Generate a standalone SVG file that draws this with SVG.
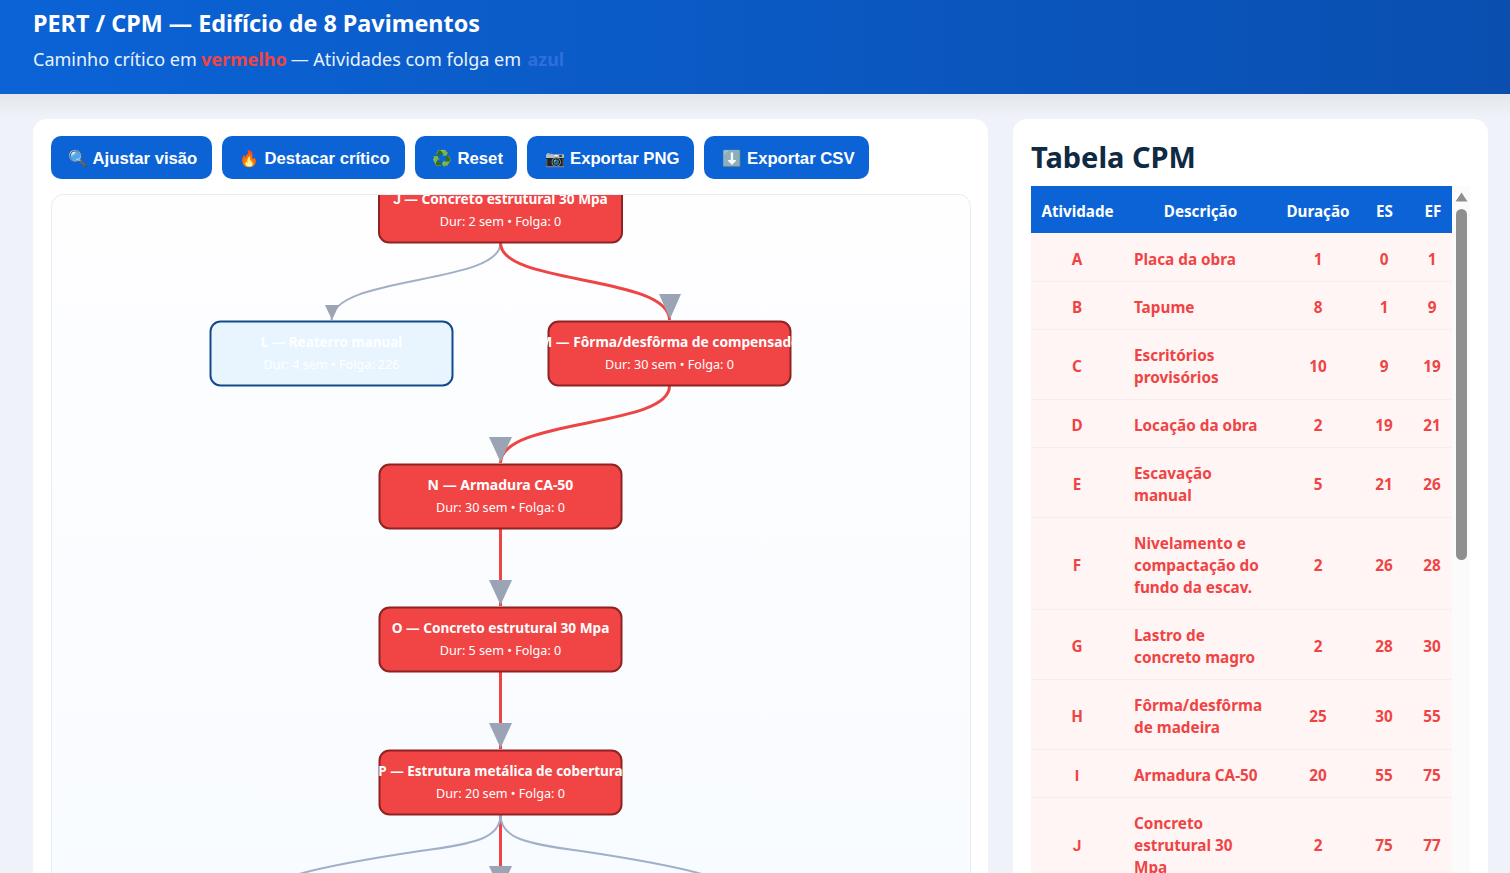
<svg xmlns="http://www.w3.org/2000/svg" width="1510" height="873" viewBox="0 0 1510 873">
<style>
text{font-family:"Noto Sans","Open Sans",sans-serif}
.rb{font-family:Roboto,"Noto Sans",sans-serif}
.btn{fill:#0b63d6}
.bt{font-family:"Liberation Sans",Arial,sans-serif;font-weight:700;font-size:16.700px;fill:#fff}
.em{font-size:16px;font-family:"Noto Color Emoji","Noto Sans",sans-serif}
.nt{font-size:13.650px;font-weight:700;fill:#fff;text-anchor:middle}
.ns{font-size:12.600px;fill:#fff;text-anchor:middle}
.crit{fill:#f14545;stroke:#8f2222;stroke-width:2}
.slack{fill:#e8f5ff;stroke:#134a8e;stroke-width:2}
.ec{fill:none;stroke:#ef4444;stroke-width:3}
.eg{fill:none;stroke:#9fb0c8;stroke-width:2}
.ah{fill:#9aa4b4}
.th{font-size:15.200px;font-weight:700;fill:#fff;text-anchor:middle}
.c{font-size:15.300px;font-weight:700;fill:#ef4444;text-anchor:middle}
.d{font-size:15.300px;font-weight:700;fill:#ef4444}
.sep{stroke:#f3eef2;stroke-width:1}
</style>
<defs>
<linearGradient id="hd" x1="0" y1="0" x2="1" y2="0"><stop offset="0" stop-color="#0b63d6"/><stop offset="1" stop-color="#0a4fb0"/></linearGradient>
<linearGradient id="sh" x1="0" y1="0" x2="0" y2="1"><stop offset="0" stop-color="#e4e6ec"/><stop offset="1" stop-color="#eff2f8"/></linearGradient>
<linearGradient id="gb" x1="0" y1="0" x2="0" y2="1"><stop offset="0" stop-color="#fefeff"/><stop offset="1" stop-color="#f8fbff"/></linearGradient>
<clipPath id="gc"><rect x="52" y="195" width="918" height="678" rx="12"/></clipPath>
</defs>
<rect width="1510" height="873" fill="#eff2f8"/>
<rect y="94" width="1510" height="24" fill="url(#sh)"/>
<rect width="1510" height="94" fill="url(#hd)"/>
<text x="33" y="32" font-size="24" font-weight="700" fill="#fff" textLength="447" lengthAdjust="spacingAndGlyphs">PERT / CPM — Edifício de 8 Pavimentos</text>
<text y="66" font-size="18" fill="#eaf2ff"><tspan x="33">Caminho crítico em </tspan><tspan x="201" font-weight="700" fill="#ef4444">vermelho</tspan><tspan x="286"> — Atividades com folga em </tspan><tspan x="527.500" font-weight="700" fill="#2f6fdc">azul</tspan></text>
<rect x="33" y="119" width="955" height="770" rx="14" fill="#fff"/>
<rect x="1013" y="119" width="475" height="770" rx="14" fill="#fff"/>
<g id="toolbar">
<g id="btn-ajustar"><rect class="btn" x="51" y="136" width="161" height="43" rx="10"/><text class="em" x="68" y="164">🔍</text><text class="bt" x="92.500" y="163.500">Ajustar visão</text></g>
<g id="btn-destacar"><rect class="btn" x="222" y="136" width="183" height="43" rx="10"/><text class="em" x="239" y="164">🔥</text><text class="bt" x="264.500" y="163.500">Destacar crítico</text></g>
<g id="btn-reset"><rect class="btn" x="415" y="136" width="102" height="43" rx="10"/><text class="em" x="432" y="164">♻️</text><text class="bt" x="457.500" y="163.500">Reset</text></g>
<g id="btn-png"><rect class="btn" x="527" y="136" width="167" height="43" rx="10"/><text class="em" x="545" y="164">📷</text><text class="bt" x="570" y="163.500">Exportar PNG</text></g>
<g id="btn-csv"><rect class="btn" x="704" y="136" width="165" height="43" rx="10"/><text class="em" x="722" y="164">⬇️</text><text class="bt" x="747" y="163.500">Exportar CSV</text></g>
</g>
<rect x="51.500" y="194.500" width="919" height="690" rx="12" fill="url(#gb)" stroke="#e6edf5"/>
<g clip-path="url(#gc)">
<g id="connectors">
<path class="eg" d="M500.500 243C500.500 285 331.500 275 331.500 320"/>
<path class="ec" d="M500.500 243C500.500 285 669.500 275 669.500 320"/>
<path class="ec" d="M669.500 386C669.500 428 500.500 418 500.500 463"/>
<path class="ec" d="M500.500 529V606"/>
<path class="ec" d="M500.500 672V749"/>
<path class="ec" d="M500.500 815V892"/>
<path class="eg" d="M500.500 815C500.500 838 475 844 420 851C380 857 335 864 299 874"/>
<path class="eg" d="M500.500 815C500.500 838 526 844 581 851C621 857 666 864 702 874"/>
<path class="ah" d="M325 305H339L332 320Z"/>
<path class="ah" d="M659 294H681L670 319Z"/>
<path class="ah" d="M489 437H512L500.500 462Z"/>
<path class="ah" d="M489 580H512L500.500 605Z"/>
<path class="ah" d="M489 723H512L500.500 748Z"/>
<path class="ah" d="M489 866H512L500.500 891Z"/>
</g>
<g id="node-J"><rect class="crit" x="379" y="178" width="243" height="64.500" rx="10"/><text class="nt" x="500.500" y="204"><tspan class="rb">J</tspan> — Concreto estrutural 30 Mpa</text><text class="ns" x="500.500" y="226">Dur: 2 sem • Folga: 0</text></g>
<g id="node-L"><rect class="slack" x="210.500" y="321.500" width="242" height="64" rx="10"/><text class="nt" x="331.500" y="347" style="font-size:13.500px">L — Reaterro manual</text><text class="ns" x="331.500" y="369">Dur: 4 sem • Folga: 226</text></g>
<g id="node-M"><rect class="crit" x="548.500" y="321.500" width="242" height="64" rx="10"/><text class="nt" x="669.500" y="347" style="font-size:13.750px">M — Fôrma/desfôrma de compensado</text><text class="ns" x="669.500" y="369">Dur: 30 sem • Folga: 0</text></g>
<g id="node-N"><rect class="crit" x="379.500" y="464.500" width="242" height="64" rx="10"/><text class="nt" x="500.500" y="490" style="font-size:14px">N — Armadura CA-50</text><text class="ns" x="500.500" y="512">Dur: 30 sem • Folga: 0</text></g>
<g id="node-O"><rect class="crit" x="379.500" y="607.500" width="242" height="64" rx="10"/><text class="nt" x="500.500" y="633">O — Concreto estrutural 30 Mpa</text><text class="ns" x="500.500" y="655">Dur: 5 sem • Folga: 0</text></g>
<g id="node-P"><rect class="crit" x="379.500" y="750.500" width="242" height="64" rx="10"/><text class="nt" x="500.500" y="776" style="font-size:13.500px">P — Estrutura metálica de cobertura</text><text class="ns" x="500.500" y="798">Dur: 20 sem • Folga: 0</text></g>
</g>
<g id="table">
<text x="1031" y="168" font-size="29" font-weight="700" fill="#0f2a43">Tabela CPM</text>
<rect x="1031" y="233" width="421" height="640" fill="#fff5f5"/>
<rect x="1031" y="186" width="421" height="47" fill="#0b63d6"/>
<text class="th" x="1077.500" y="217">Atividade</text><text class="th" x="1200.500" y="217">Descrição</text><text class="th" x="1318" y="217">Duração</text><text class="th" x="1384.500" y="217">ES</text><text class="th" x="1433" y="217">EF</text>
<path class="sep" d="M1031 281.500H1452M1031 329.500H1452M1031 399.500H1452M1031 447.500H1452M1031 517.500H1452M1031 609.500H1452M1031 679.500H1452M1031 749.500H1452M1031 797.500H1452"/>
<text class="c" x="1077" y="265">A</text><text class="d" x="1134" y="265">Placa da obra</text><text class="c" x="1318" y="265">1</text><text class="c" x="1384" y="265">0</text><text class="c" x="1432" y="265">1</text>
<text class="c" x="1077" y="313">B</text><text class="d" x="1134" y="313">Tapume</text><text class="c" x="1318" y="313">8</text><text class="c" x="1384" y="313">1</text><text class="c" x="1432" y="313">9</text>
<text class="c" x="1077" y="372">C</text><text class="d" x="1134" y="361">Escritórios</text><text class="d" x="1134" y="383">provisórios</text><text class="c" x="1318" y="372">10</text><text class="c" x="1384" y="372">9</text><text class="c" x="1432" y="372">19</text>
<text class="c" x="1077" y="431">D</text><text class="d" x="1134" y="431">Locação da obra</text><text class="c" x="1318" y="431">2</text><text class="c" x="1384" y="431">19</text><text class="c" x="1432" y="431">21</text>
<text class="c" x="1077" y="490">E</text><text class="d" x="1134" y="479">Escavação</text><text class="d" x="1134" y="501">manual</text><text class="c" x="1318" y="490">5</text><text class="c" x="1384" y="490">21</text><text class="c" x="1432" y="490">26</text>
<text class="c" x="1077" y="571">F</text><text class="d" x="1134" y="549">Nivelamento e</text><text class="d" x="1134" y="571">compactação do</text><text class="d" x="1134" y="593">fundo da escav.</text><text class="c" x="1318" y="571">2</text><text class="c" x="1384" y="571">26</text><text class="c" x="1432" y="571">28</text>
<text class="c" x="1077" y="652">G</text><text class="d" x="1134" y="641">Lastro de</text><text class="d" x="1134" y="663">concreto magro</text><text class="c" x="1318" y="652">2</text><text class="c" x="1384" y="652">28</text><text class="c" x="1432" y="652">30</text>
<text class="c" x="1077" y="722">H</text><text class="d" x="1134" y="711">Fôrma/desfôrma</text><text class="d" x="1134" y="733">de madeira</text><text class="c" x="1318" y="722">25</text><text class="c" x="1384" y="722">30</text><text class="c" x="1432" y="722">55</text>
<text class="c rb" x="1077" y="781">I</text><text class="d" x="1134" y="781">Armadura CA-50</text><text class="c" x="1318" y="781">20</text><text class="c" x="1384" y="781">55</text><text class="c" x="1432" y="781">75</text>
<text class="c rb" x="1077" y="851">J</text><text class="d" x="1134" y="829">Concreto</text><text class="d" x="1134" y="851">estrutural 30</text><text class="d" x="1134" y="873">Mpa</text><text class="c" x="1318" y="851">2</text><text class="c" x="1384" y="851">75</text><text class="c" x="1432" y="851">77</text>
</g>
<g id="scrollbar"><rect x="1452" y="186" width="18" height="687" fill="#fbfbfb"/><path d="M1455.500 201.500L1461.500 192.500L1467.500 201.500Z" fill="#8f8f8f"/><rect x="1456" y="209" width="11" height="351" rx="5.500" fill="#8f8f8f"/></g>
</svg>
